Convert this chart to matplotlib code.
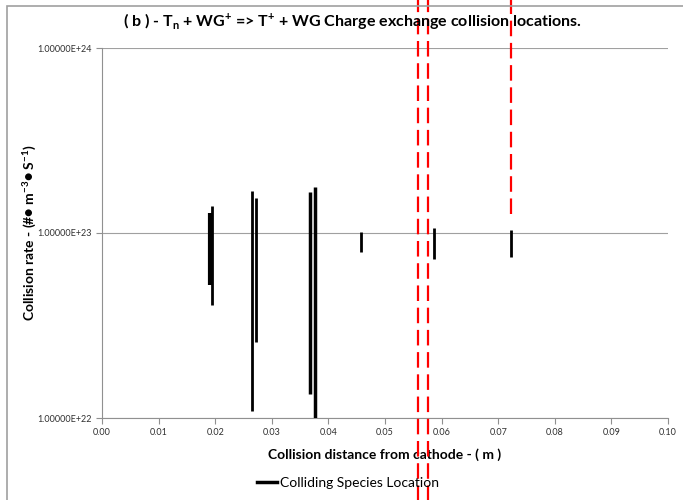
import matplotlib
matplotlib.use("Agg")
import matplotlib.pyplot as plt
from matplotlib.patches import Rectangle
from matplotlib.lines import Line2D
from matplotlib.ticker import FixedLocator, NullLocator

plt.rcParams['font.family'] = ['Lato', 'DejaVu Sans']

# vertical segments: x position, lower and upper collision rate
seg_x = [0.01906, 0.01942, 0.02655, 0.02714, 0.0368, 0.0377, 0.0458, 0.0586, 0.0722]
seg_low = [5.24e22, 4.08e22, 1.09e22, 2.58e22, 1.35e22, 9.0e21, 7.87e22, 7.23e22, 7.45e22]
seg_high = [1.28e23, 1.40e23, 1.69e23, 1.54e23, 1.67e23, 1.78e23, 1.01e23, 1.07e23, 1.04e23]
seg_width = [3.0, 2.0, 2.0, 2.0, 2.5, 2.5, 2.0, 2.0, 2.0]

# red dashed marker lines (x, bottom and top in axes fraction)
red_x = [0.0559, 0.0576, 0.0722]
red_bottom = [-0.23, -0.23, 0.551]
red_top = [1.14, 1.14, 1.14]

x_ticks = [0.00, 0.01, 0.02, 0.03, 0.04, 0.05, 0.06, 0.07, 0.08, 0.09, 0.10]
y_ticks = [1e22, 1e23, 1e24]
y_tick_labels = ["1.00000E+22", "1.00000E+23", "1.00000E+24"]

fig = plt.figure(figsize=(6.83, 5.0), dpi=100)

# chart frame
fig.patches.append(Rectangle((7 / 683, -0.1), 1.2, (494 / 500) + 0.1,
                             transform=fig.transFigure, fill=False,
                             edgecolor='#a0a0a0', linewidth=1.2))

ax = fig.add_axes([102 / 683, 82 / 500, 566 / 683, 370 / 500])
ax.set_yscale('log')
ax.set_xlim(0, 0.10)
ax.set_ylim(1e22, 1e24)

for x, lo, hi, lw in zip(seg_x, seg_low, seg_high, seg_width):
    ax.plot([x, x], [lo, hi], color='black', linewidth=lw, solid_capstyle='butt',
            zorder=3)

for x, b, t in zip(red_x, red_bottom, red_top):
    ax.plot([x, x], [b, t], color='#ff0000', linewidth=1.6,
            linestyle=(0, (7, 3)), transform=ax.get_xaxis_transform(),
            clip_on=False, zorder=4)

ax.yaxis.set_major_locator(FixedLocator(y_ticks))
ax.yaxis.set_minor_locator(NullLocator())
ax.set_yticklabels(y_tick_labels)
ax.set_xticks(x_ticks)
ax.set_xticklabels([f"{v:.2f}" for v in x_ticks])
ax.tick_params(axis='both', labelsize=6.5, length=4, width=0.8,
               direction='out', colors='#909090', labelcolor='#303030')

ax.grid(axis='y', color='#a0a0a0', linewidth=0.8)
for s in ['top', 'right']:
    ax.spines[s].set_visible(False)
for s in ['left', 'bottom']:
    ax.spines[s].set_color('#909090')
    ax.spines[s].set_linewidth(0.8)

fig.text(352 / 683, 1 - 22 / 500,
         "( b ) - T$_\\mathregular{n}$ + WG$^\\mathregular{+}$ => T$^\\mathregular{+}$ + WG Charge exchange collision locations.",
         ha='center', va='center', fontsize=11.5, fontweight='bold')
ax.set_xlabel("Collision distance from cathode - ( m )", fontsize=10,
              fontweight='bold', labelpad=8)
ax.set_ylabel("Collision rate - (#\u25cf m$^\\mathregular{-3}$\u25cf S$^\\mathregular{-1}$)",
              fontsize=10, fontweight='bold')
ax.yaxis.set_label_coords(-0.113, 0.5)

leg_handle = Line2D([], [], color='black', linewidth=2.5)
fig.legend([leg_handle], ["Colliding Species Location"], loc='center',
           bbox_to_anchor=(348 / 683, 1 - 483 / 500), frameon=False,
           fontsize=10, handlelength=1.4, handletextpad=0.2)

fig.savefig("out.png", dpi=100)
